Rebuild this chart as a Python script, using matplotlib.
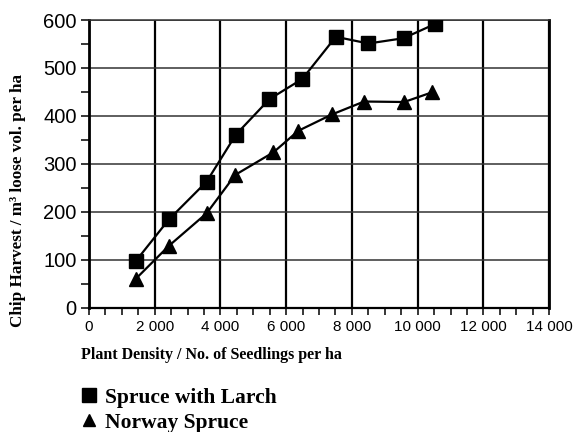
import matplotlib
matplotlib.use("Agg")
import matplotlib.pyplot as plt
from matplotlib.lines import Line2D
from matplotlib.ticker import FuncFormatter, MultipleLocator

density_larch = [1420, 2430, 3580, 4470, 5490, 6490, 7510, 8500, 9570, 10540]
harvest_larch = [97, 184, 263, 361, 435, 477, 565, 551, 562, 592]
density_spruce = [1420, 2430, 3580, 4450, 5610, 6370, 7390, 8370, 9590, 10430]
harvest_spruce = [60, 129, 197, 277, 324, 369, 403, 430, 429, 449]

series_names = ["Spruce with Larch", "Norway Spruce"]
x_label = "Plant Density / No. of Seedlings per ha"
y_label = "Chip Harvest / m\u00b3 loose vol. per ha"


def thousands(x, pos):
    if x >= 1000:
        return f"{int(x) // 1000} {int(x) % 1000:03d}"
    return f"{int(x)}"


fig = plt.figure(figsize=(5.78, 4.32), dpi=100)
ax = fig.add_axes([0.154, 0.2877, 0.796, 0.666])

ax.plot(density_larch, harvest_larch, color="black", lw=1.6,
        marker="s", markersize=10, zorder=3)
ax.plot(density_spruce, harvest_spruce, color="black", lw=1.6,
        marker="^", markersize=10, zorder=3)

ax.set_xlim(0, 14000)
ax.set_ylim(0, 600)
ax.xaxis.set_major_locator(MultipleLocator(2000))
ax.xaxis.set_minor_locator(MultipleLocator(500))
ax.yaxis.set_major_locator(MultipleLocator(100))
ax.yaxis.set_minor_locator(MultipleLocator(50))
ax.xaxis.set_major_formatter(FuncFormatter(thousands))

ax.grid(axis="x", which="major", color="black", lw=1.6)
ax.grid(axis="y", which="major", color="#333333", lw=1.1)

ax.tick_params(axis="both", which="both", direction="out", width=1.1,
               color="black")
ax.tick_params(axis="y", which="both", length=6, pad=3, labelsize=14.5)
ax.tick_params(axis="x", which="both", length=5, pad=4, labelsize=11)
for lab in ax.get_xticklabels() + ax.get_yticklabels():
    lab.set_family("Liberation Sans")

ax.spines["left"].set_linewidth(2)
ax.spines["bottom"].set_linewidth(1.6)
ax.spines["right"].set_linewidth(2)
ax.spines["top"].set_linewidth(1.1)
ax.spines["top"].set_color("#333333")

fig.text(0.031, 0.537, y_label, rotation=90, ha="center", va="center",
         family="Liberation Serif", weight="bold", fontsize=12.3)
fig.text(0.141, 0.178, x_label, ha="left", va="center",
         family="Liberation Serif", weight="bold", fontsize=11.5)

handles = [
    Line2D([], [], color="black", marker="s", linestyle="none", markersize=9.5),
    Line2D([], [], color="black", marker="^", linestyle="none", markersize=8),
]
fig.legend(handles, series_names, loc="upper left",
           bbox_to_anchor=(0.139, 0.102), frameon=False,
           prop={"family": "Liberation Serif", "weight": "bold", "size": 15.5},
           handlelength=0.8, handletextpad=0.34, labelspacing=0.23,
           borderaxespad=0, borderpad=0)

fig.savefig("out.png", dpi=100)
